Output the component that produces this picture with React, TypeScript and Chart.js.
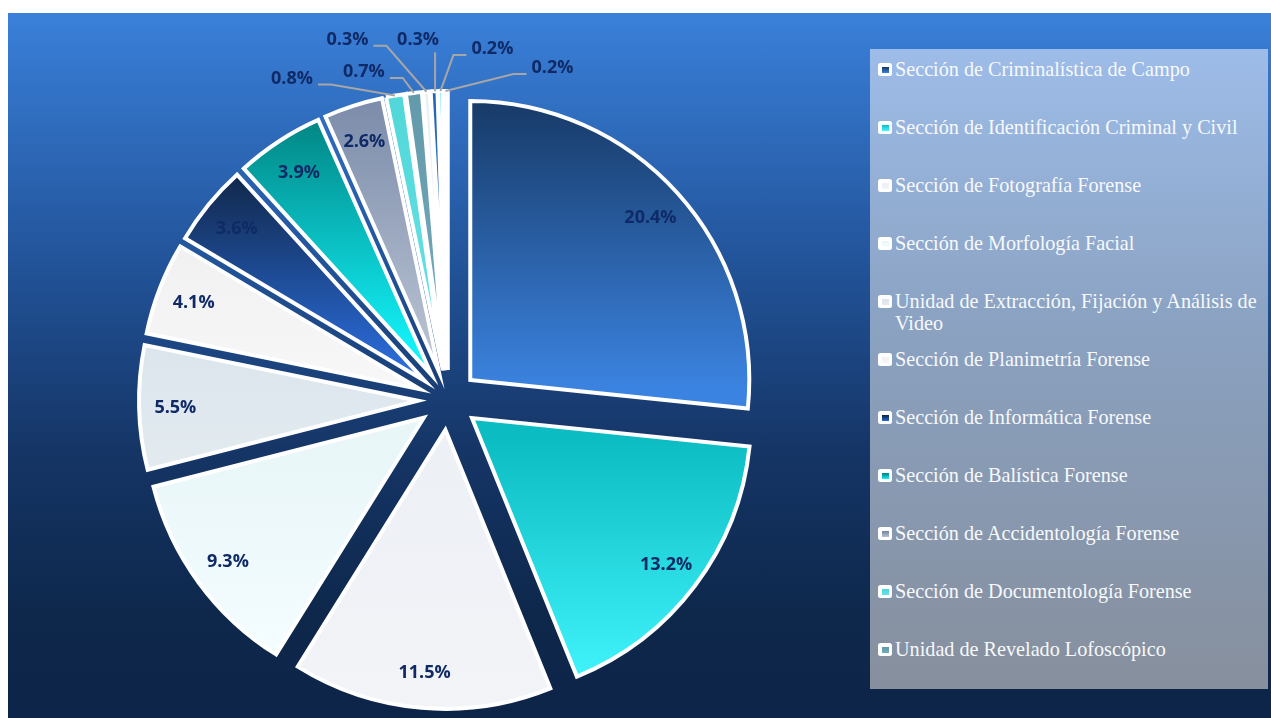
import React, { useEffect, useRef } from "react";
import { Chart, registerables } from "chart.js";

Chart.register(...registerables);

const categories = [
  "Sección de Criminalística de Campo",
  "Sección de Identificación Criminal y Civil",
  "Sección de Fotografía Forense",
  "Sección de Morfología Facial",
  "Unidad de Extracción, Fijación y Análisis de Video",
  "Sección de Planimetría Forense",
  "Sección de Informática Forense",
  "Sección de Balística Forense",
  "Sección de Accidentología Forense",
  "Sección de Documentología Forense",
  "Unidad de Revelado Lofoscópico",
  "",
  "",
  "",
  "",
];

const values = [20.4, 13.2, 11.5, 9.3, 5.5, 4.1, 3.6, 3.9, 2.6, 0.8, 0.7, 0.3, 0.3, 0.2, 0.2];

const colorTop = [
  "#15355f", "#0bbcc2", "#edf0f5", "#e8f6f8", "#dbe5ec", "#f0f0f0", "#0e213c", "#007a78",
  "#7485a5", "#4fd6d8", "#6198aa", "#e8eef5", "#2060b0", "#3ee0f0", "#f0f2f6",
];
const colorBottom = [
  "#3b83e0", "#44f6fe", "#f3f4f8", "#f5fdff", "#e3ebf0", "#f7f7f7", "#2a6ad6", "#12f2f9",
  "#b6c0d0", "#66e2e4", "#74aab8", "#f2f6fa", "#3a80d8", "#70f0f8", "#ffffff",
];

const LEGEND_VISIBLE = 11;

// style / layout constants
const EXPLODE = 30;
const RADIUS = 279;
const LABEL_RATIO = 0.87;
const LABEL_FONT = "bold 18px 'Open Sans'";
const LABEL_COLOR = "#0f2a66";
const CALLOUT_SHIFT: Record<number, [number, number]> = {
  9: [-103, -18],
  10: [-50, -22],
  11: [-79, -53],
  12: [-16, -52],
  13: [52, -43],
  14: [107, -24],
};

const explodePlugin = {
  id: "explodeDraw",
  beforeDatasetDraw(chart: any, args: any) {
    const ctx: CanvasRenderingContext2D = chart.ctx;
    const meta = args.meta;
    meta.data.forEach((arc: any, i: number) => {
      const { x, y, startAngle, endAngle, outerRadius } = arc.getProps(
        ["x", "y", "startAngle", "endAngle", "outerRadius"],
        true
      );
      const mid = (startAngle + endAngle) / 2;
      const tx = Math.cos(mid) * EXPLODE;
      const ty = Math.sin(mid) * EXPLODE;
      let minY = y + ty;
      let maxY = y + ty;
      const steps = 32;
      for (let k = 0; k <= steps; k++) {
        const a = startAngle + ((endAngle - startAngle) * k) / steps;
        const py = y + ty + Math.sin(a) * outerRadius;
        minY = Math.min(minY, py);
        maxY = Math.max(maxY, py);
      }
      const g = ctx.createLinearGradient(0, minY, 0, maxY + 0.01);
      g.addColorStop(0, colorTop[i]);
      g.addColorStop(1, colorBottom[i]);
      const saved = arc.options;
      arc.options = { ...saved, backgroundColor: g };
      ctx.save();
      ctx.translate(tx, ty);
      arc.draw(ctx);
      ctx.restore();
      arc.options = saved;
    });
    return false;
  },
  afterDatasetsDraw(chart: any) {
    const ctx: CanvasRenderingContext2D = chart.ctx;
    const meta = chart.getDatasetMeta(0);
    ctx.save();
    ctx.font = LABEL_FONT;
    ctx.fillStyle = LABEL_COLOR;
    ctx.textAlign = "center";
    ctx.textBaseline = "middle";
    meta.data.forEach((arc: any, i: number) => {
      const { x, y, startAngle, endAngle, outerRadius } = arc.getProps(
        ["x", "y", "startAngle", "endAngle", "outerRadius"],
        true
      );
      const mid = (startAngle + endAngle) / 2;
      const dx = Math.cos(mid);
      const dy = Math.sin(mid);
      const ax = x + dx * EXPLODE;
      const ay = y + dy * EXPLODE;
      const text = values[i].toFixed(1) + "%";
      const shift = CALLOUT_SHIFT[i];
      if (shift) {
        const ex = ax + dx * outerRadius;
        const ey = ay + dy * outerRadius;
        const lx = ex + shift[0];
        const ly = ey + shift[1];
        const w = ctx.measureText(text).width;
        ctx.save();
        ctx.strokeStyle = "#a6a6a6";
        ctx.lineWidth = 2;
        ctx.beginPath();
        if (Math.abs(shift[0]) < 25) {
          ctx.moveTo(ex + 1, ly + 13);
          ctx.lineTo(ex + 1, ey);
        } else {
          const side = shift[0] < 0 ? 1 : -1;
          const sx = lx + side * (w / 2 + 5);
          const hx = sx + side * 13;
          ctx.moveTo(sx, ly + 7);
          ctx.lineTo(hx, ly + 7);
          ctx.lineTo(ex, ey);
        }
        ctx.stroke();
        ctx.restore();
        ctx.fillText(text, lx, ly + 1);
      } else {
        const r = outerRadius * LABEL_RATIO;
        ctx.fillText(text, ax + dx * r, ay + dy * r + 1);
      }
    });
    ctx.restore();
  },
};

export default function App() {
  const canvasRef = useRef<HTMLCanvasElement | null>(null);

  useEffect(() => {
    if (!canvasRef.current) return;
    const chart = new Chart(canvasRef.current, {
      type: "pie",
      data: {
        labels: categories,
        datasets: [
          {
            data: values,
            backgroundColor: colorBottom,
            borderColor: "#ffffff",
            borderWidth: 4,
            borderJoinStyle: "miter",
            offset: 0,
            clip: false,
          } as any,
        ],
      },
      options: {
        responsive: false,
        animation: false,
        events: [],
        radius: RADIUS,
        layout: { padding: { top: 69, left: 0, right: 0, bottom: 0 } },
        plugins: {
          legend: { display: false },
          tooltip: { enabled: false },
        },
      } as any,
      plugins: [explodePlugin],
    });
    return () => chart.destroy();
  }, []);

  const legendItems = categories
    .map((label, i) => ({ label, i }))
    .filter((it) => it.label !== "")
    .slice(0, LEGEND_VISIBLE);

  return (
    <div
      style={{
        position: "absolute",
        left: 8,
        top: 13,
        width: 1263,
        height: 705,
        overflow: "hidden",
        background:
          "linear-gradient(to bottom, #3a80da 0%, #22549a 35%, #153566 62%, #0e284c 85%, #0c2447 100%)",
      }}
    >
      <canvas
        ref={canvasRef}
        width={880}
        height={705}
        style={{ position: "absolute", left: 0, top: 0, width: 880, height: 705 }}
      />
      <div
        style={{
          position: "absolute",
          left: 862,
          top: 36,
          width: 398,
          height: 640,
          boxSizing: "border-box",
          paddingTop: 9,
          paddingLeft: 8,
          background: "linear-gradient(to bottom, #9dbce8 0%, #8aa1c0 45%, #868f9d 100%)",
        }}
      >
        {legendItems.map((it) => (
          <div key={it.i} style={{ display: "flex", alignItems: "flex-start", height: 58 }}>
            <div
              style={{
                width: 14,
                height: 13,
                marginTop: 5,
                borderRadius: 2.5,
                background: "#ffffff",
                display: "flex",
                alignItems: "center",
                justifyContent: "center",
                flex: "0 0 auto",
              }}
            >
              <div
                style={{
                  width: 7,
                  height: 6,
                  background: `linear-gradient(to bottom, ${colorTop[it.i]}, ${colorBottom[it.i]})`,
                }}
              />
            </div>
            <div
              style={{
                marginLeft: 3,
                fontFamily: "'Liberation Serif', serif",
                fontSize: 20.2,
                lineHeight: "22px",
                color: "#f7f9fc",
                maxWidth: 366,
              }}
            >
              {it.label}
            </div>
          </div>
        ))}
      </div>
    </div>
  );
}
